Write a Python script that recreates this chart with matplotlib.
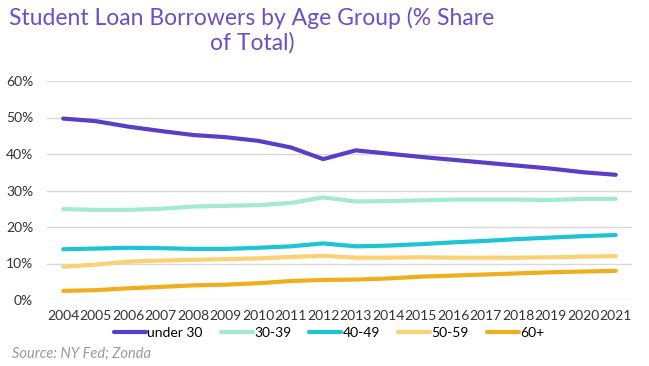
import matplotlib.pyplot as plt
from matplotlib.ticker import PercentFormatter

years = list(range(2004, 2022))
under_30 = [49.7, 49.0, 47.5, 46.3, 45.2, 44.6, 43.6, 41.8, 38.6, 41.0,
            40.1, 39.2, 38.4, 37.6, 36.8, 36.0, 35.0, 34.3]
age_30_39 = [24.9, 24.7, 24.7, 25.0, 25.6, 25.8, 26.0, 26.6, 28.1, 27.0,
             27.1, 27.3, 27.5, 27.5, 27.5, 27.4, 27.7, 27.7]
age_40_49 = [13.9, 14.1, 14.3, 14.2, 14.0, 14.0, 14.3, 14.7, 15.5, 14.7,
             14.9, 15.3, 15.8, 16.2, 16.7, 17.1, 17.5, 17.8]
age_50_59 = [9.1, 9.7, 10.5, 10.8, 11.0, 11.2, 11.4, 11.8, 12.1, 11.6,
             11.6, 11.7, 11.6, 11.6, 11.6, 11.7, 11.9, 12.0]
age_60p = [2.5, 2.7, 3.2, 3.6, 4.0, 4.2, 4.6, 5.2, 5.5, 5.6,
           5.9, 6.4, 6.7, 7.0, 7.3, 7.6, 7.8, 8.0]

series = [
    ('under 30', under_30, '#5a3fc6'),
    ('30-39', age_30_39, '#a2ead2'),
    ('40-49', age_40_49, '#1cc4d4'),
    ('50-59', age_50_59, '#fbd174'),
    ('60+', age_60p, '#f0ae1e'),
]

plt.rcParams['font.family'] = ['Lato', 'DejaVu Sans']

fig = plt.figure(figsize=(6.49, 3.66), dpi=100)
ax = fig.add_axes([47/649, 1 - 300/366, (632-47)/649, (300-81)/366])

for name, vals, color in series:
    ax.plot(years, vals, color=color, lw=3, label=name, solid_capstyle='round')

ax.set_xlim(2003.5, 2021.5)
ax.set_ylim(0, 60)
ax.set_yticks(range(0, 61, 10))
ax.yaxis.set_major_formatter(PercentFormatter(decimals=0))
ax.set_xticks(years)
ax.tick_params(length=0, labelsize=10, colors='#333333')
ax.tick_params(axis='y', pad=10)
ax.tick_params(axis='x', pad=7)
ax.grid(axis='y', color='#d9d9d9', lw=1)
ax.set_axisbelow(True)
for s in ax.spines.values():
    s.set_visible(False)

fig.text(252/649, 1 - 30/366, 'Student Loan Borrowers by Age Group (% Share\nof Total)',
         ha='center', va='center', fontsize=16.5, color='#6a4fc9', linespacing=1.15)

ax.legend(loc='center', bbox_to_anchor=(329/649, 1 - 333/366),
          bbox_transform=fig.transFigure, ncol=5, frameon=False,
          fontsize=10, handlelength=2.3, handletextpad=0.1, columnspacing=1.3)

fig.text(12/649, 1 - 354/366, 'Source: NY Fed; Zonda', fontsize=10.5,
         style='italic', color='#999999', va='center')

fig.savefig('out.png', dpi=100)
